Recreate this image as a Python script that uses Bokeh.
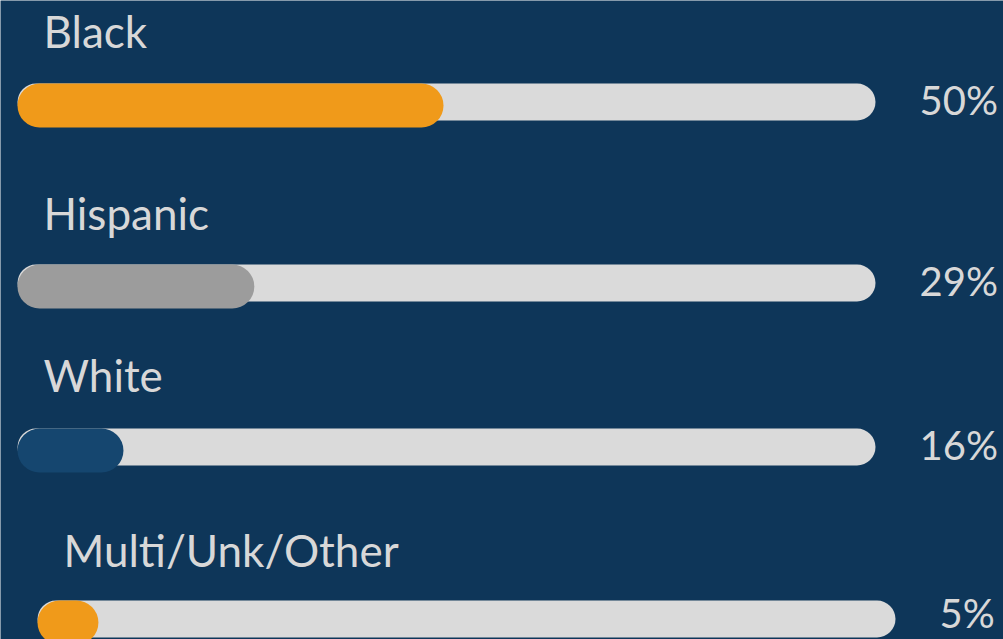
from bokeh.plotting import figure
from bokeh.models import Range1d, ColumnDataSource
from bokeh.core.properties import value
from bokeh.embed import file_html
from bokeh.resources import INLINE

# ---- data ----
categories = ["Black", "Hispanic", "White", "Multi/Unk/Other"]
bar_values = [49.65, 27.6, 12.35, 7.1]          # filled share of each track
pct_labels = ["50%", "29%", "16%", "5%"]

# ---- layout (pixels) ----
W, H = 1003, 639
track_left_px = 17
track_len_px = 858
px_per_unit = track_len_px / 100.0
row_shift_px = [0, 0, 0, 20]
track_top_px = [83, 264, 428, 600]
label_base_px = [30, 212, 374, 549]
pct_nudge_px = [0, 0, 0, -4]
track_h = 37
fill_h = 44

BG = "#0e3659"
TRACK = "#dadada"
fill_colors = ["#f09a1a", "#9c9c9c", "#15466f", "#f09a1a"]
TEXT = "#d8d8d8"
FONT = "Lato"

p = figure(width=W, height=H, output_backend="svg", toolbar_location=None,
           x_axis_location=None, y_axis_location=None, min_border=0,
           x_range=Range1d(-track_left_px / px_per_unit, (W - track_left_px) / px_per_unit),
           y_range=Range1d(H, 0))
p.background_fill_color = BG
p.border_fill_color = BG
p.outline_line_color = None
p.grid.visible = False

shift_u = [s / px_per_unit for s in row_shift_px]
tr_r = (track_h / 2) / px_per_unit
fl_r = (fill_h / 2) / px_per_unit

track = ColumnDataSource(dict(
    x0=[s + tr_r for s in shift_u],
    x1=[s + 100 - tr_r for s in shift_u],
    y=[t + track_h / 2 for t in track_top_px],
))
p.segment(x0="x0", y0="y", x1="x1", y1="y", source=track,
          line_width=track_h, line_cap="round", line_color=TRACK)

fill = ColumnDataSource(dict(
    x0=[s + fl_r for s in shift_u],
    x1=[s + max(v - 2 * fl_r, 0) + fl_r for s, v in zip(shift_u, bar_values)],
    y=[t + fill_h / 2 for t in track_top_px],
    c=fill_colors,
))
p.segment(x0="x0", y0="y", x1="x1", y1="y", source=fill,
          line_width=fill_h, line_cap="round", line_color="c")

labels = ColumnDataSource(dict(
    x=[(43 - track_left_px + s) / px_per_unit for s in row_shift_px],
    y=label_base_px,
    t=categories,
))
p.text(x="x", y="y", text="t", source=labels, text_font=value(FONT),
       text_font_size="44px", text_color=TEXT, text_baseline="alphabetic")

pcts = ColumnDataSource(dict(
    x=[(919 - track_left_px + s) / px_per_unit for s in row_shift_px],
    y=[t + track_h / 2 - 2 + n for t, n in zip(track_top_px, pct_nudge_px)],
    t=pct_labels,
))
p.text(x="x", y="y", text="t", source=pcts, text_font=value(FONT),
       text_font_size="40px", text_color=TEXT, text_baseline="alphabetic")

open("out.html", "w").write(file_html(p, INLINE))
